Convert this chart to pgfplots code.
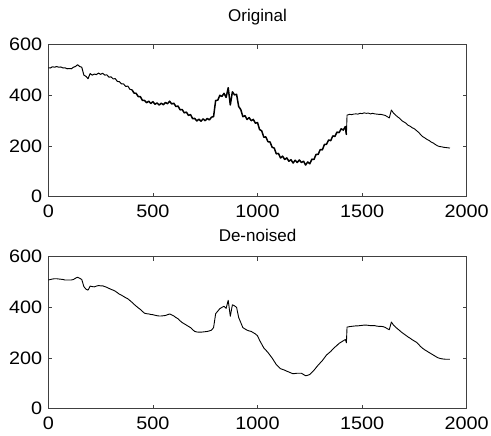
\documentclass[border=0pt]{standalone}
\usepackage{pgfplots}
\pgfplotsset{compat=1.18}
\usepackage{pgfplotstable}
\usepackage{fontspec}
\setmainfont{Liberation Sans}

% noisy signal
\pgfplotstableread{
x y
0 509
10 508
20 513
30 511
40 514
50 511
60 512
70 508
80 509
90 505
100 506
110 505
120 511
130 514
140 521
150 514
160 511
170 480
180 475
190 466
200 486
210 480
220 484
230 482
240 488
250 483
260 487
270 480
280 481
290 472
300 473
310 465
320 466
330 455
340 454
350 445
360 445
370 435
380 437
390 424
400 422
410 409
420 408
430 395
440 395
450 380
460 380
470 371
480 377
490 368
500 375
510 365
520 370
530 362
540 369
550 363
560 372
570 367
580 377
590 366
600 369
610 356
620 358
630 343
640 344
650 331
660 334
670 321
680 324
690 308
700 309
710 299
720 306
730 298
740 307
750 300
760 309
770 303
780 314
790 316
800 380
810 381
820 400
830 396
840 408
850 392
860 430
870 362
880 414
890 402
900 404
910 356
920 344
930 316
940 320
950 305
960 312
970 300
980 305
990 290
1000 293
1010 265
1020 260
1030 235
1040 236
1050 217
1060 216
1070 195
1080 192
1090 169
1100 171
1110 153
1120 160
1130 147
1140 153
1150 140
1160 146
1170 133
1180 144
1190 135
1200 145
1210 135
1220 140
1230 125
1240 137
1250 130
1260 148
1270 147
1280 167
1290 167
1300 186
1310 185
1320 206
1330 207
1340 224
1350 221
1360 240
1370 238
1380 255
1390 253
1400 268
1410 263
1420 277
1425 245
1428 322
1440 325
1450 324
1460 326
1470 327
1480 326
1490 329
1500 328
1510 331
1520 329
1530 330
1540 327
1550 329
1560 327
1570 326
1580 325
1590 325
1600 323
1610 321
1620 316
1630 311
1640 342
1650 330
1660 322
1670 315
1680 309
1690 300
1700 295
1710 290
1720 282
1730 278
1740 272
1750 268
1760 261
1770 254
1780 245
1790 237
1800 232
1810 226
1820 222
1830 216
1840 212
1850 206
1860 201
1870 198
1880 197
1890 195
1900 194
1910 193
1920 192
}\original

% smoothed signal
\pgfplotstableread{
x y
0 508
10 510
20 512
30 513
40 513
50 512
60 511
70 510
80 508
90 508
100 508
110 508
120 510
130 515
140 519
150 515
160 510
170 482
180 472
190 468
200 484
210 482
220 481
230 484
240 486
250 485
260 485
270 482
280 479
290 475
300 471
310 468
320 464
330 458
340 452
350 448
360 443
370 438
380 434
390 427
400 420
410 412
420 405
430 398
440 392
450 384
460 377
470 375
480 374
490 372
500 371
510 369
520 367
530 366
540 366
550 367
560 368
570 371
580 374
590 370
600 366
610 360
620 355
630 347
640 340
650 335
660 330
670 325
680 320
690 312
700 305
710 303
720 302
730 302
740 303
750 304
760 305
770 307
780 310
790 320
800 375
810 385
820 395
830 400
840 404
850 396
860 428
870 365
880 410
890 406
900 400
910 360
920 340
930 320
940 315
950 310
960 307
970 305
980 300
990 295
1000 288
1010 270
1020 255
1030 240
1040 231
1050 222
1060 211
1070 200
1080 187
1090 174
1100 166
1110 158
1120 155
1130 152
1140 148
1150 145
1160 141
1170 138
1180 139
1190 140
1200 140
1210 140
1220 135
1230 130
1240 132
1250 135
1260 143
1270 152
1280 162
1290 172
1300 181
1310 190
1320 201
1330 212
1340 219
1350 226
1360 235
1370 243
1380 250
1390 258
1400 263
1410 268
1420 273
1425 260
1428 322
1440 324
1450 325
1460 326
1470 327
1480 327
1490 328
1500 329
1510 330
1520 330
1530 329
1540 328
1550 328
1560 328
1570 326
1580 325
1590 325
1600 324
1610 321
1620 316
1630 312
1640 342
1650 330
1660 322
1670 315
1680 308
1690 301
1700 295
1710 289
1720 283
1730 278
1740 272
1750 267
1760 262
1770 254
1780 245
1790 238
1800 232
1810 227
1820 222
1830 217
1840 212
1850 207
1860 202
1870 199
1880 197
1890 196
1900 195
1910 195
1920 195
}\denoised

\pgfplotsset{
  panel/.style={
    scale only axis,
    width=418.4pt, height=152pt,
    xmin=0, xmax=2000, ymin=0, ymax=600,
    xtick={0,500,...,2000}, ytick={0,200,...,600},
    tick align=inside,
    major tick length=4pt,
    axis line style={black!75, line width=0.7pt},
    tick style={black!75, line width=0.7pt},
    tick label style={font=\fontsize{18}{18}\selectfont, xscale=1.1},
    /pgf/number format/assume math mode=true,
    /pgf/number format/1000 sep={},
    scaled ticks=false,
    xticklabel style={yshift=-5pt},
    yticklabel style={xshift=-2pt},
    title style={font=\fontsize{17}{17}\selectfont, at={(0.5,1)}, anchor=base},
  }
}

\begin{document}
\begin{tikzpicture}[x=1pt,y=1pt]
\useasboundingbox (0,0) rectangle (491,436);
\begin{axis}[panel, at={(48.3pt,239.3pt)}, anchor=south west,
  title={Original}, title style={yshift=17pt}]
% quieter stretches thin, the noisy middle thick
\addplot[black, line width=1.0pt, line join=round, restrict x to domain=0:400] table[x=x,y=y] {\original};
\addplot[black, line width=1.5pt, line join=round, restrict x to domain=400:1425] table[x=x,y=y] {\original};
\addplot[black, line width=0.9pt, line join=round, restrict x to domain=1420:1920] table[x=x,y=y] {\original};
\end{axis}
\begin{axis}[panel, at={(48.3pt,27.3pt)}, anchor=south west,
  title={De-noised}, title style={yshift=9pt}]
\addplot[black, line width=0.9pt, line join=round] table[x=x,y=y] {\denoised};
\end{axis}
\end{tikzpicture}
\end{document}
